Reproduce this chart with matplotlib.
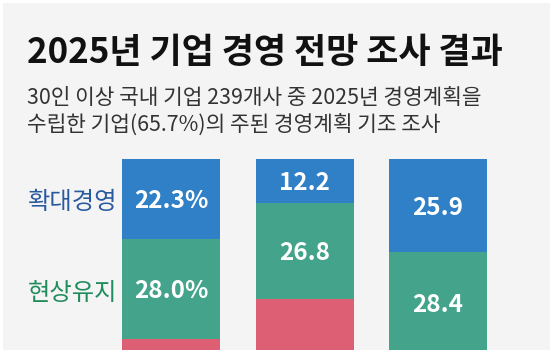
import matplotlib
matplotlib.use("Agg")
import matplotlib.pyplot as plt
from matplotlib.patches import Rectangle

plt.rcParams['font.family'] = ['Noto Sans CJK KR', 'DejaVu Sans']

title = "2025년 기업 경영 전망 조사 결과"
subtitle_lines = ["30인 이상 국내 기업 239개사 중 2025년 경영계획을",
                  "수립한 기업(65.7%)의 주된 경영계획 기조 조사"]
series_names = ["확대경영", "현상유지", "축소경영"]
expand = [22.3, 12.2, 25.9]
maintain = [28.0, 26.8, 28.4]
shrink = [49.7, 61.0, 45.7]
value_labels = [["22.3%", "12.2", "25.9"],
                ["28.0%", "26.8", "28.4"]]

C_BLUE = "#2f80c6"
C_GREEN = "#43a38b"
C_RED = "#dc5f73"
BG = "#f4f4f5"

W, H = 550, 350
fig = plt.figure(figsize=(W / 100, H / 100), dpi=100, facecolor="white")
fig.patches.append(Rectangle((3 / W, 0), 1 - 3 / W, 1 - 3 / H, transform=fig.transFigure,
                             facecolor=BG, edgecolor="none", zorder=-10))

def fx(px):
    return px / W

def fy(py):
    return 1 - py / H

fig.text(fx(27), fy(63), title, fontsize=25.2, fontweight="bold", color="#111111",
         va="baseline", ha="left")
fig.text(fx(27), fy(104), subtitle_lines[0], fontsize=15.4, fontweight="light",
         color="#333333", va="baseline", ha="left")
fig.text(fx(27), fy(132), subtitle_lines[1], fontsize=15.4, fontweight="light",
         color="#333333", va="baseline", ha="left")

# axes: top at 159px, 1 unit = 3.58 px
top_px = 159
unit = 3.58
ax_h_px = 100 * unit
left_px, right_px = 104.5, 504.5
ax = fig.add_axes([fx(left_px), fy(top_px + ax_h_px), (right_px - left_px) / W, ax_h_px / H],
                  zorder=2)
ax.set_facecolor("none")
ax.set_xlim(-0.5, 2.5)
ax.set_ylim(100, 0)
ax.axis("off")

x = list(range(len(expand)))
bw = 0.735
ax.bar(x, expand, width=bw, color=C_BLUE, bottom=0)
ax.bar(x, maintain, width=bw, color=C_GREEN, bottom=expand)
bot2 = [a + b for a, b in zip(expand, maintain)]
ax.bar(x, shrink, width=bw, color=C_RED, bottom=bot2)

for i in x:
    ax.text(i, expand[i] / 2 + 0.7, value_labels[0][i], ha="center", va="center",
            color="white", fontsize=17.5, fontweight="bold")
    ax.text(i, expand[i] + maintain[i] / 2 + 0.7, value_labels[1][i], ha="center", va="center",
            color="white", fontsize=17.5, fontweight="bold")

fig.text(fx(28), fy(202), series_names[0], fontsize=17.5, color="#2a5a9e",
         va="center", ha="left", fontweight="medium")
fig.text(fx(28), fy(293), series_names[1], fontsize=17.5, color="#1f8c5c",
         va="center", ha="left", fontweight="medium")

fig.savefig("out.png", dpi=100, facecolor="white")
